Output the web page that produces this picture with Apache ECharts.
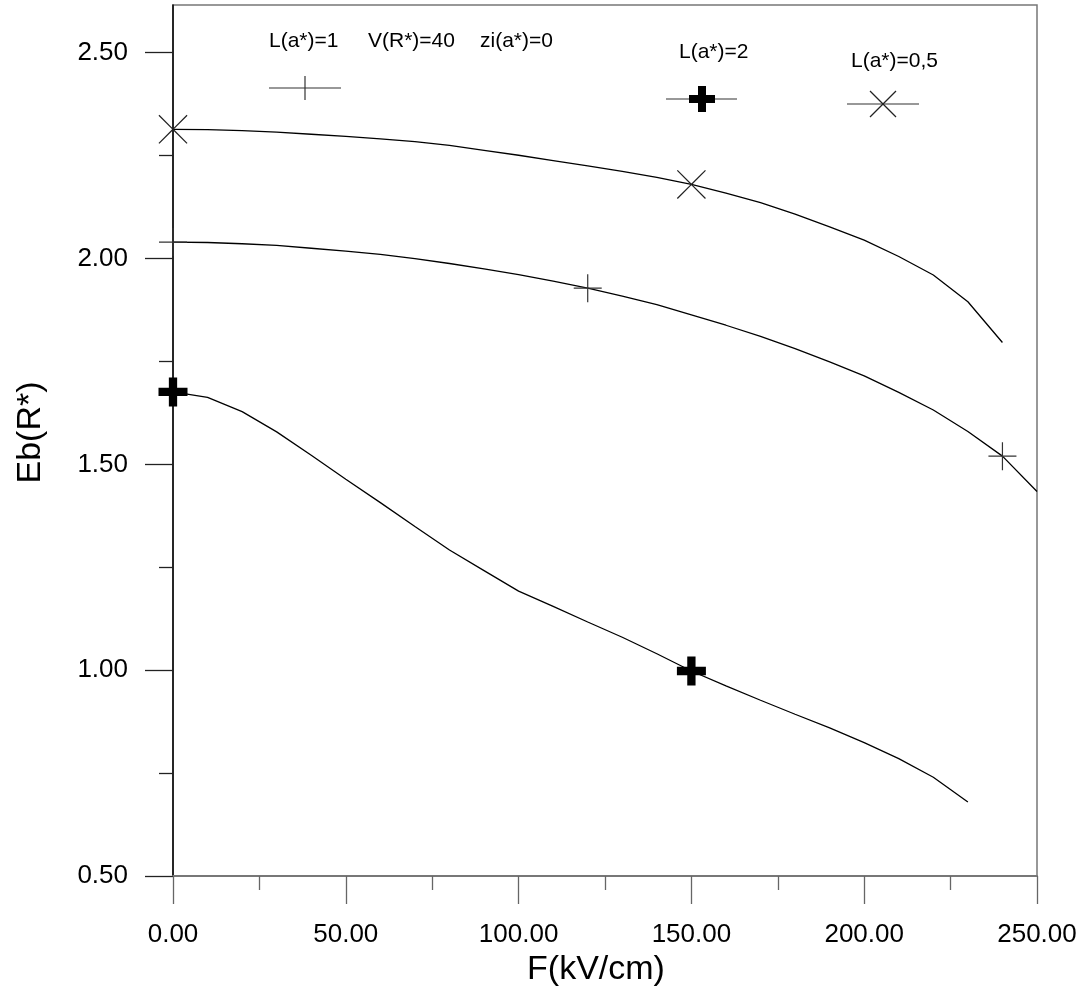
<!DOCTYPE html>
<html>
<head>
<meta charset="utf-8">
<script src="https://cdn.jsdelivr.net/npm/echarts@6/dist/echarts.min.js"></script>
<style>
html,body{margin:0;padding:0;background:#fff;}
#chart{width:1092px;height:992px;}
</style>
</head>
<body>
<div id="chart"></div>
<script>
// ---------- data ----------
const seriesNames = ['L(a*)=0,5', 'L(a*)=1', 'L(a*)=2'];
// L(a*)=0,5 curve
const fA = [0,10,20,30,40,50,60,70,80,90,100,110,120,130,140,150,160,170,180,190,200,210,220,230,240];
const ebA = [2.314,2.313,2.311,2.307,2.302,2.297,2.291,2.284,2.275,2.263,2.251,2.238,2.225,2.212,2.197,2.180,2.159,2.136,2.108,2.077,2.045,2.005,1.960,1.895,1.796];
const markA = [0,150];
// L(a*)=1 curve
const fB = [0,10,20,30,40,50,60,70,80,90,100,110,120,130,140,150,160,170,180,190,200,210,220,230,240,250];
const ebB = [2.040,2.039,2.036,2.032,2.025,2.018,2.010,2.000,1.988,1.975,1.961,1.945,1.928,1.909,1.888,1.863,1.838,1.811,1.781,1.749,1.715,1.675,1.632,1.580,1.520,1.434];
const markB = [0,120,240];
// L(a*)=2 curve
const fC = [0,10,20,30,40,50,60,70,80,90,100,110,120,130,140,150,160,170,180,190,200,210,220,230];
const ebC = [1.676,1.663,1.628,1.579,1.522,1.464,1.407,1.349,1.292,1.242,1.192,1.155,1.117,1.080,1.040,0.998,0.962,0.927,0.893,0.860,0.824,0.785,0.740,0.680];
const markC = [0,150];

const yMajor = [0.5,1.0,1.5,2.0,2.5];
const yMinor = [0.75,1.25,1.75,2.25];
const topTexts = ['L(a*)=1','V(R*)=40','zi(a*)=0'];

// ---------- styling ----------
const FONT = 'Arial, "Liberation Sans", sans-serif';
const P_PLUS = 'path://M13.4,0h1.2v13.4H28v1.2H14.6V28h-1.2V14.6H0v-1.2h13.4z';
const P_X = 'path://M0,0.85L0.85,0L14,13.15L27.15,0L28,0.85L14.85,14L28,27.15L27.15,28L14,14.85L0.85,28L0,27.15L13.15,14z';
const P_BOLD = 'path://M10,0h8v10h10v8H18v10h-8V18H0v-8h10z';

function pairs(xs, ys){ return xs.map((x,i)=>[x, ys[i]]); }
function marks(xs, ys, m){ return m.map(v=>[v, ys[xs.indexOf(v)]]); }

const chart = echarts.init(document.getElementById('chart'), null, {renderer:'canvas'});

function hline(x1, x2, y){
  return {type:'line', shape:{x1:x1, y1:y, x2:x2, y2:y}, style:{stroke:'#333', lineWidth:1.2}, z:10};
}
function seg(x1,y1,x2,y2,c){
  return {type:'line', shape:{x1:x1, y1:y1, x2:x2, y2:y2}, style:{stroke:c, lineWidth:1.2}, z:11};
}
function txt(x, y, s){
  return {type:'text', x:x, y:y, style:{text:s, font:'21px '+FONT, fill:'#000', textVerticalAlign:'middle', verticalAlign:'middle'}, z:10};
}
// legend symbol centres
const c1 = [305, 88], c2 = [702, 99], c3 = [883, 104];
const graphics = [
  txt(269, 41, topTexts[0]),
  txt(368, 41, topTexts[1]),
  txt(480, 41, topTexts[2]),
  txt(679, 52, seriesNames[2]),
  txt(851, 61, seriesNames[0]),
  hline(269, 341, c1[1]),
  seg(c1[0], c1[1]-12, c1[0], c1[1]+12, '#333'),
  hline(666, 737, c2[1]),
  {type:'polygon', shape:{points:[
    [c2[0]-4,c2[1]-13],[c2[0]+4,c2[1]-13],[c2[0]+4,c2[1]-4],[c2[0]+13,c2[1]-4],[c2[0]+13,c2[1]+4],[c2[0]+4,c2[1]+4],
    [c2[0]+4,c2[1]+13],[c2[0]-4,c2[1]+13],[c2[0]-4,c2[1]+4],[c2[0]-13,c2[1]+4],[c2[0]-13,c2[1]-4],[c2[0]-4,c2[1]-4]
  ]}, style:{fill:'#000'}, z:11},
  hline(847, 919, c3[1]),
  seg(c3[0]-13, c3[1]-13, c3[0]+13, c3[1]+13, '#222'),
  seg(c3[0]-13, c3[1]+13, c3[0]+13, c3[1]-13, '#222')
];

const option = {
  animation:false,
  backgroundColor:'#fff',
  textStyle:{fontFamily:FONT},
  grid:{left:173, right:55, top:5, bottom:116, show:true, borderColor:'#777', borderWidth:1.5, backgroundColor:'transparent'},
  xAxis:{
    type:'value', min:0, max:250, interval:50,
    name:'F(kV/cm)', nameLocation:'middle', nameGap:71,
    nameTextStyle:{fontSize:34, color:'#000', fontFamily:FONT, padding:[0,18,0,0]},
    axisLine:{show:true, lineStyle:{color:'#777', width:2}},
    axisTick:{show:true, length:28, lineStyle:{color:'#666', width:1.3}},
    minorTick:{show:true, splitNumber:2, length:14, lineStyle:{color:'#666', width:1.3}},
    axisLabel:{margin:46, fontSize:26, color:'#000', fontFamily:FONT, formatter:v=>v.toFixed(2)},
    splitLine:{show:false}, minorSplitLine:{show:false}
  },
  yAxis:[{
    type:'value', min:0.5, max:2.616, position:'left',
    name:'Eb(R*)', nameLocation:'middle', nameGap:125, nameRotate:90,
    nameTextStyle:{fontSize:34, color:'#000', fontFamily:FONT, padding:[0,0,0,16]},
    axisLine:{show:true, lineStyle:{color:'#000', width:1.5}},
    axisTick:{show:true, length:28, customValues:yMajor, lineStyle:{color:'#222', width:1.3}},
    axisLabel:{margin:45, fontSize:26, color:'#000', fontFamily:FONT, customValues:yMajor, formatter:v=>v.toFixed(2)},
    splitLine:{show:false}
  },{
    type:'value', min:0.5, max:2.616, position:'left', offset:0,
    axisLine:{show:false},
    axisTick:{show:true, length:14, customValues:yMinor, lineStyle:{color:'#222', width:1.3}},
    axisLabel:{show:false},
    splitLine:{show:false}
  }],
  series:[
    {name:seriesNames[0], type:'line', data:pairs(fA, ebA), showSymbol:false, symbol:'none', lineStyle:{color:'#000', width:1.3}, z:3},
    {name:seriesNames[1], type:'line', data:pairs(fB, ebB), showSymbol:false, symbol:'none', lineStyle:{color:'#000', width:1.3}, z:3},
    {name:seriesNames[2], type:'line', data:pairs(fC, ebC), showSymbol:false, symbol:'none', lineStyle:{color:'#000', width:1.3}, z:3},
    {name:seriesNames[0]+' pts', type:'scatter', data:marks(fA, ebA, markA), symbol:P_X, symbolSize:29, itemStyle:{color:'#222', opacity:1}, clip:false, z:4},
    {name:seriesNames[1]+' pts', type:'scatter', data:marks(fB, ebB, markB), symbol:P_PLUS, symbolSize:28, itemStyle:{color:'#333', opacity:1}, clip:false, z:4},
    {name:seriesNames[2]+' pts', type:'scatter', data:marks(fC, ebC, markC), symbol:P_BOLD, symbolSize:29, itemStyle:{color:'#000', opacity:1}, clip:false, z:4}
  ],
  graphic:graphics
};
chart.setOption(option);
</script>
</body>
</html>
